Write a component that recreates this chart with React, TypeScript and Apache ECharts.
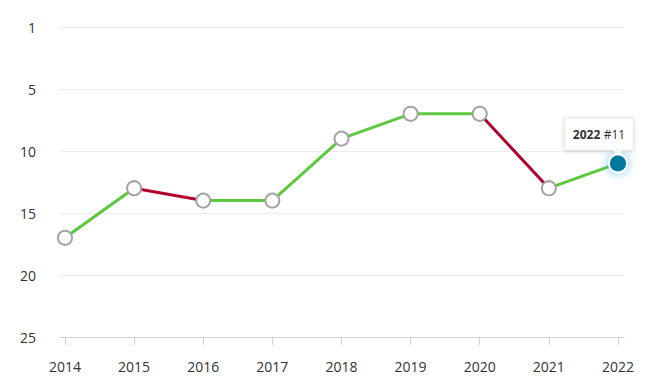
import React, { useEffect, useRef } from "react";
import * as echarts from "echarts";

const years = [2014, 2015, 2016, 2017, 2018, 2019, 2020, 2021, 2022];
const ranks = [17, 13, 14, 14, 9, 7, 7, 13, 11];

const GREEN = "#5cc83f";
const RED = "#b3002a";
const FONT = "Open Sans";

export default function App() {
  const ref = useRef<HTMLDivElement>(null);
  useEffect(() => {
    if (!ref.current) return;
    const chart = echarts.init(ref.current, undefined, { renderer: "svg" });
    const segments: any[] = [];
    for (let i = 0; i < years.length - 1; i++) {
      const worse = ranks[i + 1] > ranks[i];
      segments.push({
        type: "line",
        data: [
          [years[i], ranks[i]],
          [years[i + 1], ranks[i + 1]],
        ],
        showSymbol: false,
        symbol: "none",
        lineStyle: { color: worse ? RED : GREEN, width: 3 },
        z: 2,
        silent: true,
      });
    }
    const last = years.length - 1;
    const points = years.map((y, i) =>
      i === last
        ? {
            value: [y, ranks[i]],
            symbolSize: 18,
            itemStyle: {
              color: "#00789e",
              borderColor: "#ffffff",
              borderWidth: 2,
              shadowBlur: 10,
              shadowColor: "rgba(0,160,220,0.55)",
            },
            label: {
              show: true,
              position: "top",
              distance: 4,
              offset: [-19, 0],
              formatter: "{b|" + y + "} {n|#" + ranks[i] + "}",
              backgroundColor: "#ffffff",
              borderColor: "#e6e6e6",
              borderWidth: 1,
              shadowBlur: 4,
              shadowColor: "rgba(0,0,0,0.18)",
              shadowOffsetY: 1,
              padding: [10, 8, 9, 8],
              rich: {
                b: { fontFamily: FONT, fontSize: 12, fontWeight: "bold", color: "#333" },
                n: { fontFamily: FONT, fontSize: 12, color: "#333" },
              },
            },
          }
        : { value: [y, ranks[i]] }
    );
    chart.setOption({
      animation: false,
      grid: { left: 60, right: 28, top: 27, bottom: 55 },
      xAxis: {
        type: "value",
        position: "bottom",
        min: 2013.928,
        max: 2022.087,
        splitLine: { show: false },
        axisLine: { show: true, onZero: false, lineStyle: { color: "#d0d0d0" } },
        axisTick: {
          show: true,
          length: 8,
          lineStyle: { color: "#d0d0d0" },
          customValues: years,
        },
        axisLabel: {
          customValues: years,
          formatter: (v: number) => String(v),
          margin: 22,
          fontFamily: FONT,
          fontSize: 14,
          color: "#333",
        },
      },
      yAxis: {
        type: "value",
        inverse: true,
        min: 0,
        max: 25,
        interval: 5,
        axisLine: { show: false },
        axisTick: { show: false },
        splitLine: { lineStyle: { color: "#ececec" } },
        axisLabel: {
          margin: 24,
          fontFamily: FONT,
          fontSize: 14,
          color: "#333",
          formatter: (v: number) => (v === 0 ? "1" : String(v)),
        },
      },
      series: [
        ...segments,
        {
          type: "scatter",
          data: points,
          symbol: "circle",
          symbolSize: 14,
          itemStyle: { color: "#ffffff", borderColor: "#a3a3a3", borderWidth: 2, opacity: 1 },
          z: 3,
        },
        {
          type: "scatter",
          data: [[years[last], ranks[last]]],
          symbol: "triangle",
          symbolRotate: 180,
          symbolSize: [12, 6],
          symbolOffset: [0, -10.5],
          itemStyle: { color: "#ffffff" },
          silent: true,
          z: 5,
        },
      ],
    });
    return () => chart.dispose();
  }, []);
  return (
    <div
      ref={ref}
      style={{ position: "fixed", left: 0, top: 0, width: 652, height: 392, background: "#fff" }}
    />
  );
}
